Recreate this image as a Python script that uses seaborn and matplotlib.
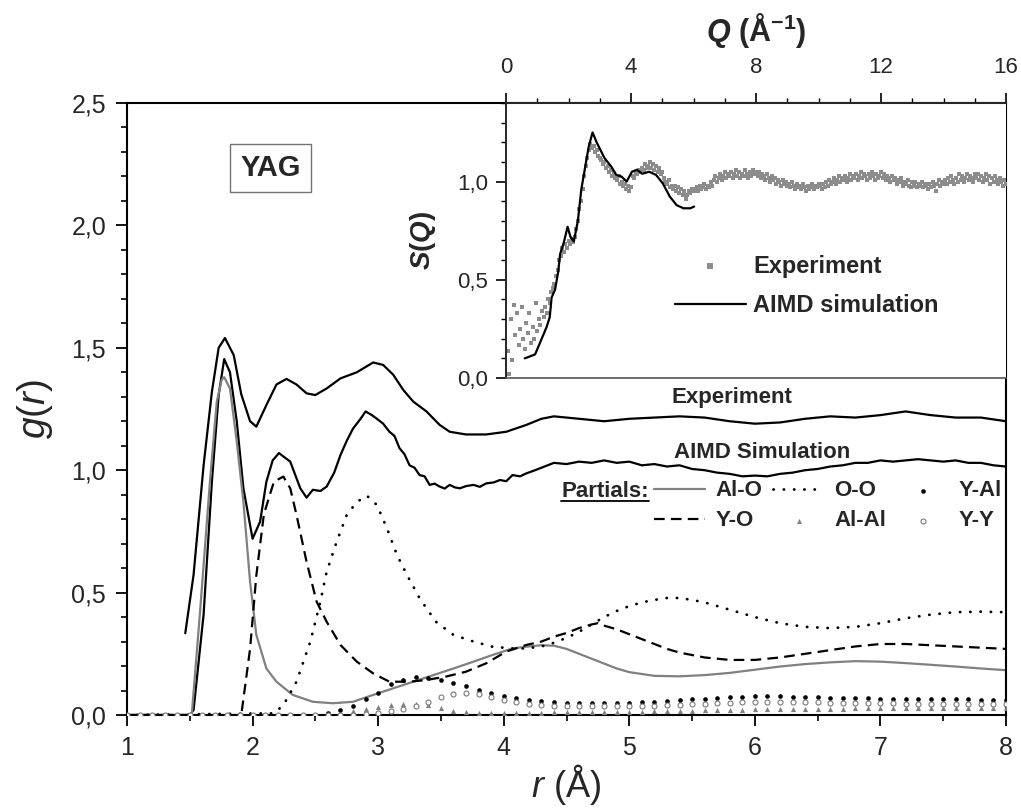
import numpy as np
import matplotlib
matplotlib.use("Agg")
import matplotlib.pyplot as plt
import seaborn as sns
from matplotlib.lines import Line2D
from matplotlib.ticker import FuncFormatter, MultipleLocator

# ---------------- data ----------------
r_exp = [1.464, 1.53, 1.61, 1.676, 1.73, 1.78, 1.85, 1.91, 1.98, 2.03,
         2.11, 2.19, 2.27, 2.35, 2.43, 2.50, 2.59, 2.70, 2.83, 2.96,
         3.04, 3.12, 3.20, 3.28, 3.385, 3.49, 3.57, 3.70, 3.86, 4.02,
         4.18, 4.3, 4.4, 4.5, 4.6, 4.7, 4.8, 4.9, 5.0, 5.2,
         5.4, 5.6, 5.8, 6.0, 6.2, 6.4, 6.6, 6.8, 7.0, 7.2,
         7.4, 7.6, 7.8, 8.0]
g_exp = [0.334, 0.572, 1.02, 1.32, 1.50, 1.54, 1.47, 1.31, 1.20, 1.178,
         1.266, 1.35, 1.373, 1.35, 1.314, 1.307, 1.334, 1.375, 1.40, 1.44,
         1.43, 1.39, 1.328, 1.28, 1.24, 1.185, 1.157, 1.146, 1.146, 1.157,
         1.185, 1.21, 1.22, 1.215, 1.21, 1.205, 1.2, 1.205, 1.21, 1.215,
         1.22, 1.215, 1.2, 1.19, 1.195, 1.21, 1.22, 1.215, 1.225, 1.24,
         1.225, 1.215, 1.215, 1.2]

r_sim = [1.0, 1.50, 1.53, 1.61, 1.676, 1.73, 1.774, 1.82, 1.874, 1.927,
         2.0, 2.06, 2.11, 2.16, 2.21, 2.30, 2.38, 2.43, 2.48, 2.54,
         2.59, 2.65, 2.70, 2.75, 2.80, 2.86, 2.90, 2.95, 2.99, 3.04,
         3.09, 3.13, 3.17, 3.21, 3.25, 3.29, 3.33, 3.37, 3.41, 3.45,
         3.49, 3.53, 3.57, 3.61, 3.65, 3.70, 3.76, 3.81, 3.86, 3.92,
         3.97, 4.02, 4.07, 4.13, 4.18, 4.25, 4.3, 4.4, 4.5, 4.6,
         4.7, 4.8, 4.9, 5.0, 5.1, 5.2, 5.3, 5.4, 5.5, 5.6,
         5.7, 5.8, 5.9, 6.0, 6.1, 6.2, 6.3, 6.4, 6.5, 6.6,
         6.7, 6.8, 6.9, 7.0, 7.1, 7.2, 7.3, 7.4, 7.5, 7.6,
         7.7, 7.8, 7.9, 8.0]
g_sim = [0.0, 0.0, 0.02, 0.41, 0.953, 1.307, 1.454, 1.40, 1.20, 0.926,
         0.72, 0.79, 0.953, 1.04, 1.07, 1.035, 0.926, 0.888, 0.92, 0.915,
         0.933, 0.99, 1.062, 1.12, 1.17, 1.21, 1.24, 1.225, 1.21, 1.19,
         1.157, 1.14, 1.09, 1.065, 1.02, 1.01, 0.98, 0.975, 0.94, 0.945,
         0.933, 0.925, 0.94, 0.93, 0.926, 0.935, 0.94, 0.932, 0.946, 0.95,
         0.96, 0.955, 0.98, 0.975, 0.987, 1.0, 1.01, 1.03, 1.025, 1.035,
         1.03, 1.04, 1.03, 1.035, 1.02, 1.025, 1.015, 1.02, 1.005, 1.0,
         0.99, 0.985, 0.975, 0.978, 0.975, 0.985, 0.99, 1.0, 1.005, 1.015,
         1.02, 1.03, 1.03, 1.04, 1.035, 1.04, 1.045, 1.04, 1.035, 1.04,
         1.03, 1.03, 1.02, 1.015]

r_alo = [1.0, 1.5, 1.517, 1.58, 1.62, 1.66, 1.715, 1.755, 1.774, 1.82,
         1.874, 1.927, 1.98, 2.03, 2.11, 2.19, 2.32, 2.48, 2.64, 2.80,
         2.96, 3.12, 3.28, 3.44, 3.60, 3.76, 3.91, 4.07, 4.18, 4.3,
         4.4, 4.5, 4.6, 4.7, 4.8, 4.9, 5.0, 5.2, 5.4, 5.6,
         5.8, 6.0, 6.2, 6.4, 6.6, 6.8, 7.0, 7.2, 7.4, 7.6,
         7.8, 8.0]
g_alo = [0.0, 0.0, 0.01, 0.41, 0.68, 0.95, 1.28, 1.37, 1.38, 1.334,
         1.117, 0.87, 0.545, 0.327, 0.19, 0.136, 0.082, 0.054, 0.048, 0.054,
         0.082, 0.109, 0.136, 0.163, 0.19, 0.218, 0.245, 0.272, 0.279, 0.285,
         0.283, 0.27, 0.25, 0.23, 0.21, 0.19, 0.175, 0.16, 0.158, 0.163,
         0.172, 0.185, 0.198, 0.208, 0.215, 0.22, 0.218, 0.212, 0.205, 0.198,
         0.19, 0.183]

r_yo = [1.0, 1.91, 1.98, 2.03, 2.09, 2.17, 2.245, 2.30, 2.35, 2.43,
        2.51, 2.59, 2.70, 2.83, 2.96, 3.09, 3.25, 3.385, 3.54, 3.70,
        3.86, 4.02, 4.18, 4.3, 4.4, 4.5, 4.6, 4.7, 4.75, 4.8,
        4.9, 5.0, 5.1, 5.2, 5.3, 5.4, 5.5, 5.6, 5.8, 6.0,
        6.2, 6.4, 6.6, 6.8, 7.0, 7.2, 7.4, 7.6, 7.8, 8.0]
g_yo = [0.0, 0.0, 0.27, 0.57, 0.82, 0.953, 0.974, 0.926, 0.817, 0.626,
        0.463, 0.381, 0.286, 0.218, 0.17, 0.136, 0.136, 0.143, 0.157, 0.177,
        0.211, 0.259, 0.286, 0.30, 0.32, 0.335, 0.355, 0.37, 0.375, 0.365,
        0.35, 0.33, 0.31, 0.29, 0.27, 0.255, 0.245, 0.235, 0.225, 0.225,
        0.235, 0.25, 0.265, 0.28, 0.29, 0.29, 0.285, 0.28, 0.275, 0.27]

r_oo = [1.0, 2.17, 2.245, 2.35, 2.46, 2.54, 2.59, 2.67, 2.75, 2.83,
        2.91, 2.99, 3.07, 3.15, 3.23, 3.33, 3.46, 3.60, 3.76, 3.91,
        4.07, 4.18, 4.3, 4.4, 4.5, 4.6, 4.7, 4.8, 4.9, 5.0,
        5.1, 5.2, 5.3, 5.4, 5.5, 5.6, 5.7, 5.8, 5.9, 6.0,
        6.2, 6.4, 6.6, 6.8, 7.0, 7.2, 7.4, 7.6, 7.8, 8.0]
g_oo = [0.0, 0.007, 0.04, 0.136, 0.30, 0.463, 0.585, 0.708, 0.817, 0.87,
        0.896, 0.858, 0.763, 0.654, 0.572, 0.477, 0.381, 0.327, 0.30, 0.279,
        0.272, 0.272, 0.28, 0.295, 0.315, 0.34, 0.37, 0.40, 0.425, 0.445,
        0.46, 0.47, 0.478, 0.478, 0.47, 0.46, 0.445, 0.43, 0.415, 0.40,
        0.375, 0.36, 0.355, 0.36, 0.375, 0.395, 0.41, 0.42, 0.422, 0.42]

# marker partials, sampled every 0.1 A from 1.0 to 8.0
r_pts = np.round(np.linspace(1.0, 8.0, 71), 2)
g_yal = [0.0] * 16 + [
    0.01, 0.02, 0.035, 0.065, 0.09, 0.125, 0.145, 0.155, 0.15, 0.143,
    0.132, 0.118, 0.102, 0.088, 0.078, 0.068, 0.062, 0.057, 0.053, 0.05,
    0.048, 0.047, 0.047, 0.048, 0.05, 0.052, 0.055, 0.058, 0.061, 0.064,
    0.067, 0.07, 0.073, 0.075, 0.077, 0.077, 0.076, 0.075, 0.073, 0.072,
    0.071, 0.07, 0.069, 0.068, 0.067, 0.066, 0.066, 0.065, 0.065, 0.064,
    0.064, 0.064, 0.063, 0.063, 0.063]
g_alal = [0.0] * 16 + [
    0.004, 0.01, 0.018, 0.026, 0.034, 0.04, 0.044, 0.046, 0.042, 0.03,
    0.018, 0.012, 0.01, 0.009, 0.009, 0.009, 0.01, 0.01, 0.011, 0.011,
    0.012, 0.012, 0.013, 0.013, 0.014, 0.014, 0.015, 0.016, 0.017, 0.018,
    0.019, 0.02, 0.021, 0.022, 0.023, 0.024, 0.024, 0.025, 0.025, 0.026,
    0.026, 0.026, 0.027, 0.027, 0.027, 0.027, 0.027, 0.027, 0.027, 0.027,
    0.027, 0.027, 0.027, 0.027, 0.027]
g_yy = [0.0] * 19 + [
    0.003, 0.008, 0.015, 0.025, 0.038, 0.055, 0.072, 0.085, 0.089, 0.085,
    0.075, 0.062, 0.052, 0.045, 0.041, 0.038, 0.036, 0.035, 0.035, 0.035,
    0.035, 0.036, 0.037, 0.038, 0.04, 0.042, 0.044, 0.046, 0.048, 0.05,
    0.052, 0.053, 0.054, 0.054, 0.054, 0.053, 0.052, 0.051, 0.05, 0.049,
    0.048, 0.047, 0.047, 0.046, 0.046, 0.045, 0.045, 0.045, 0.045, 0.045,
    0.045, 0.045]

# inset: S(Q)
q_exp = np.round(np.arange(1, 321) * 0.05, 2)
s_exp = [
    0.14, 0.02, 0.30, 0.09, 0.37, 0.22, 0.33, 0.17, 0.25, 0.36, 0.20, 0.15, 0.28, 0.23, 0.33, 0.18, 0.26, 0.20, 0.38, 0.24,
    0.30, 0.27, 0.34, 0.31, 0.36, 0.33, 0.40, 0.38, 0.44, 0.46, 0.48, 0.52, 0.55, 0.60, 0.62, 0.66, 0.64, 0.68, 0.66, 0.70,
    0.68, 0.71, 0.69, 0.72, 0.76, 0.80, 0.86, 0.90, 0.96, 1.03, 1.08, 1.12, 1.16, 1.19, 1.17, 1.18, 1.15, 1.16, 1.13, 1.12,
    1.11, 1.09, 1.10, 1.07, 1.08, 1.05, 1.06, 1.03, 1.04, 1.02, 1.01, 1.03, 0.99, 1.00, 0.98, 0.99, 0.96, 0.98, 0.95, 0.97,
    1.03, 1.02, 1.05, 1.04, 1.06, 1.05, 1.07, 1.06, 1.09, 1.07, 1.08, 1.10, 1.07, 1.09, 1.06, 1.08, 1.05, 1.07, 1.04, 1.05,
    1.02, 1.00, 0.99, 1.01, 0.97, 0.98, 0.96, 0.98, 0.95, 0.97, 0.94, 0.96, 0.93, 0.95, 0.91, 0.93, 0.95, 0.94, 0.96, 0.95,
    0.96, 0.97, 0.95, 0.98, 0.96, 0.97, 0.99, 0.96, 0.98, 0.97, 1.00, 0.98, 1.01, 1.03, 1.00, 1.02, 1.04, 1.01, 1.03, 1.05,
    1.02, 1.04, 1.03, 1.05, 1.02, 1.04, 1.06, 1.03, 1.05, 1.02, 1.04, 1.03, 1.06, 1.04, 1.02, 1.05, 1.03, 1.06, 1.04, 1.05,
    1.03, 1.05, 1.02, 1.04, 1.03, 1.01, 1.04, 1.02, 1.00, 1.03, 1.01, 1.02, 0.99, 1.01, 1.00, 0.98, 1.01, 0.99, 1.00, 0.98,
    0.99, 0.97, 1.00, 0.98, 0.96, 0.99, 0.97, 0.98, 0.96, 0.99, 0.97, 0.95, 0.98, 0.96, 0.97, 0.99, 0.96, 0.98, 0.97, 0.99,
    0.98, 0.96, 0.99, 0.97, 1.00, 0.98, 1.01, 0.99, 1.00, 1.02, 0.99, 1.01, 1.03, 1.00, 1.02, 1.01, 1.03, 1.00, 1.02, 1.04,
    1.01, 1.03, 1.02, 1.04, 1.01, 1.03, 1.05, 1.02, 1.04, 1.03, 1.01, 1.04, 1.02, 1.05, 1.03, 1.01, 1.04, 1.02, 1.03, 1.05,
    1.02, 1.04, 1.01, 1.03, 1.02, 1.00, 1.03, 1.01, 1.02, 0.99, 1.01, 1.00, 1.02, 0.98, 1.00, 0.99, 1.01, 0.98, 0.97, 1.00,
    0.98, 1.00, 0.97, 0.99, 0.98, 1.00, 0.97, 0.99, 0.98, 0.96, 0.99, 0.97, 1.00, 0.98, 0.95, 0.99, 1.01, 0.98, 1.00, 0.99,
    1.01, 0.99, 1.02, 1.00, 1.03, 1.01, 0.99, 1.02, 1.00, 1.04, 1.01, 1.03, 1.00, 1.02, 1.04, 1.01, 1.03, 1.02, 1.00, 1.04,
    1.02, 1.04, 1.01, 1.03, 1.00, 1.02, 1.04, 1.01, 1.03, 0.99, 1.02, 1.00, 1.03, 1.01, 0.99, 1.02, 1.00, 0.98, 1.01, 0.99]
q_sim = [0.6, 0.93, 1.09, 1.3, 1.4, 1.46, 1.57, 1.67, 1.73, 1.85,
         1.97, 2.06, 2.17, 2.3, 2.41, 2.54, 2.65, 2.77, 2.9, 3.15,
         3.37, 3.53, 3.7, 3.86, 4.03, 4.19, 4.36, 4.58, 4.8, 5.02,
         5.24, 5.46, 5.68, 5.9, 6.02]
s_sim = [0.10, 0.12, 0.18, 0.26, 0.31, 0.41, 0.45, 0.54, 0.63, 0.69,
         0.77, 0.72, 0.695, 0.80, 0.96, 1.08, 1.18, 1.25, 1.20, 1.12,
         1.076, 1.034, 1.025, 1.0, 1.05, 1.06, 1.04, 1.05, 1.034, 0.99,
         0.924, 0.88, 0.864, 0.864, 0.873]

r_ticks = [1, 2, 3, 4, 5, 6, 7, 8]
g_ticks = [0.0, 0.5, 1.0, 1.5, 2.0, 2.5]
q_ticks = [0, 4, 8, 12, 16]
s_ticks = [0.0, 0.5, 1.0]

# ---------------- style ----------------
sns.set_style("ticks")
plt.rcParams["font.family"] = ["Liberation Sans", "DejaVu Sans"]
plt.rcParams["mathtext.fontset"] = "custom"
plt.rcParams["mathtext.rm"] = "Liberation Sans"
plt.rcParams["mathtext.it"] = "Liberation Sans:italic"
plt.rcParams["mathtext.bf"] = "Liberation Sans:bold"
plt.rcParams["mathtext.bfit"] = "Liberation Sans:italic:bold"

GRAY = "#808080"
comma = FuncFormatter(lambda v, p: f"{v:.1f}".replace(".", ","))

fig = plt.figure(figsize=(10.21, 8.10), dpi=100)
ax = fig.add_axes([127 / 1021, 95 / 810, 879 / 1021, 612 / 810])
ax_in = fig.add_axes([506 / 1021, 432 / 810, 500 / 1021, 275 / 810])

# ---------------- main plot ----------------
sns.lineplot(x=r_exp, y=g_exp, ax=ax, color="black", lw=1.6, sort=False)
sns.lineplot(x=r_sim, y=g_sim, ax=ax, color="black", lw=1.6, sort=False)
sns.lineplot(x=r_alo, y=g_alo, ax=ax, color=GRAY, lw=1.6, sort=False, label="Al-O")
sns.lineplot(x=r_yo, y=g_yo, ax=ax, color="black", lw=1.6, sort=False,
             linestyle=(0, (4.8, 2.8)), label="Y-O")
sns.lineplot(x=r_oo, y=g_oo, ax=ax, color="black", lw=2.0, sort=False,
             linestyle=(0, (0.1, 3.6)), dash_capstyle="round", label="O-O")
sns.scatterplot(x=r_pts, y=g_alal, ax=ax, marker="^", s=14, color=GRAY,
                linewidth=0, label="Al-Al", zorder=3)
sns.scatterplot(x=r_pts, y=g_yal, ax=ax, marker="o", s=11, color="black",
                linewidth=0, label="Y-Al", zorder=3)
sns.scatterplot(x=r_pts, y=g_yy, ax=ax, marker="o", s=13, color="white",
                edgecolor="#7a7a7a", linewidth=0.8, label="Y-Y", zorder=3)

ax.set_xlim(1, 8)
ax.set_ylim(0, 2.5)
ax.set_xticks(r_ticks)
ax.set_yticks(g_ticks)
ax.xaxis.set_minor_locator(MultipleLocator(0.5))
ax.yaxis.set_minor_locator(MultipleLocator(0.1))
ax.yaxis.set_major_formatter(comma)
ax.tick_params(which="major", direction="out", length=8, width=1.3,
               labelsize=18, pad=7, color="black")
ax.tick_params(which="minor", direction="out", length=4, width=1.2, color="black")
ax.tick_params(top=False, right=False, which="both")
for sp in ax.spines.values():
    sp.set_visible(True)
    sp.set_linewidth(1.5)
    sp.set_color("black")

ax.set_xlabel(r"$\mathit{r}$ (Å)", fontsize=26)
ax.set_ylabel(r"$\mathit{g}$($\mathit{r}$)", fontsize=28)
ax.xaxis.set_label_coords(0.5, -0.077)
ax.yaxis.set_label_coords(-0.082, 0.5)

ax.text(2.145, 2.234, "YAG", fontsize=21, fontweight="bold", ha="center",
        va="center", bbox=dict(boxstyle="square,pad=0.35", fc="white",
                               ec="0.45", lw=1.0))
ax.text(5.817, 1.295, "Experiment", fontsize=16, fontweight="bold",
        ha="center", va="center")
ax.text(6.056, 1.074, "AIMD Simulation", fontsize=16, fontweight="bold",
        ha="center", va="center")

partials = ax.text(5.157, 0.915, "Partials:", fontsize=16, fontweight="bold",
                   ha="right", va="center")

h, l = ax.get_legend_handles_labels()
hd = dict(zip(l, h))
order = ["Al-O", "Y-O", "O-O", "Al-Al", "Y-Al", "Y-Y"]
leg = ax.legend([hd[k] for k in order], order, ncol=3, loc="center left",
                bbox_to_anchor=(5.197, 0.854), bbox_transform=ax.transData,
                frameon=False, borderpad=0, borderaxespad=0,
                handlelength=2.3, handletextpad=0.45, columnspacing=0.5,
                labelspacing=0.4, markerscale=1.0,
                prop={"weight": "bold", "size": 16})

# ---------------- inset ----------------
ax_in.set_facecolor("white")
sns.scatterplot(x=q_exp, y=s_exp, ax=ax_in, marker="s", s=7, color="#8c8c8c",
                linewidth=0, label="Experiment", zorder=2)
sns.lineplot(x=q_sim, y=s_sim, ax=ax_in, color="black", lw=1.6, sort=False,
             label="AIMD simulation", zorder=3)
ax_in.set_xlim(0, 16)
ax_in.set_ylim(0, 1.4)
ax_in.set_xticks(q_ticks)
ax_in.set_yticks(s_ticks)
ax_in.xaxis.set_minor_locator(MultipleLocator(1))
ax_in.yaxis.set_minor_locator(MultipleLocator(0.1))
ax_in.yaxis.set_major_formatter(comma)
ax_in.xaxis.tick_top()
ax_in.xaxis.set_label_position("top")
ax_in.tick_params(which="major", direction="out", length=7, width=1.2,
                  labelsize=16, pad=6, color="black")
ax_in.tick_params(which="minor", direction="out", length=3.5, width=1.0,
                  color="black")
ax_in.tick_params(axis="x", which="major", pad=11)
ax_in.spines["right"].set_visible(False)
ax_in.spines["left"].set_linewidth(1.4)
ax_in.spines["top"].set_linewidth(1.5)
ax_in.spines["bottom"].set_color("#555555")
ax_in.spines["bottom"].set_linewidth(1.2)
ax_in.set_xlabel(r"$\mathbfit{Q}$ (Å$^{\mathbf{-1}}$)", fontsize=22,
                 fontweight="bold")
ax_in.xaxis.set_label_coords(0.5, 1.225)
ax_in.set_ylabel(r"$\mathbfit{S}$($\mathbfit{Q}$)", fontsize=20,
                 fontweight="bold")
ax_in.yaxis.set_label_coords(-0.135, 0.5)
ax_in.legend(loc="center left", bbox_to_anchor=(5.41, 0.469),
             bbox_transform=ax_in.transData, frameon=False, borderpad=0,
             borderaxespad=0, handlelength=3.0, handletextpad=0.3,
             labelspacing=0.7, markerscale=1.6,
             prop={"weight": "bold", "size": 17})

# underline "Partials:"
fig.canvas.draw()
bb = partials.get_window_extent(fig.canvas.get_renderer())
inv = fig.transFigure.inverted()
(x0, y0), (x1, _) = inv.transform([(bb.x0, bb.y0 + 1), (bb.x1, bb.y0 + 1)])
fig.add_artist(Line2D([x0, x1], [y0, y0], transform=fig.transFigure,
                      color="black", lw=1.3))

fig.savefig("out.png", dpi=100)
